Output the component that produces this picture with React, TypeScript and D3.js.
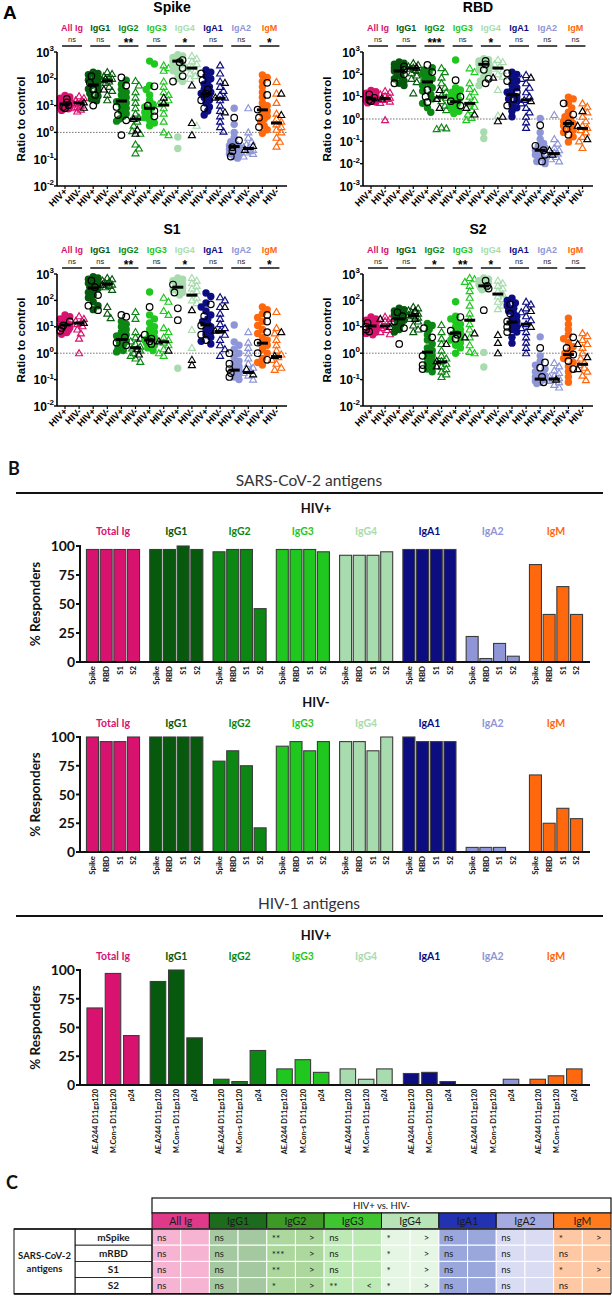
import React from 'react';
import * as d3 from 'd3';

const W = 612;
const H = 1298;
const FA = "'Liberation Sans', Arial, Helvetica, sans-serif";
const FB = "Lato, 'Open Sans', 'Liberation Sans', sans-serif";

// ---------- shared categories ----------
const isotypes = ['All Ig', 'IgG1', 'IgG2', 'IgG3', 'IgG4', 'IgA1', 'IgA2', 'IgM'];
const isotypesB = ['Total Ig', 'IgG1', 'IgG2', 'IgG3', 'IgG4', 'IgA1', 'IgA2', 'IgM'];
const isoColors = ['#d8136f', '#07590d', '#0c8714', '#1fc71f', '#a8dcae', '#0d0d82', '#8e96d8', '#ff680d'];
const headerColors = ['#e0398a', '#1d6c1d', '#3d9a24', '#3fc52f', '#b7e3b7', '#2232b0', '#a5abe0', '#ff7b1c'];
const cellColors = ['#f6b4d2', '#a4c8a0', '#acd89e', '#bdeab4', '#e6f6e4', '#99a7dc', '#dadcf3', '#fdc8a3'];
const groupTicks = ['HIV+', 'HIV-'];

// ---------- panel A: log10(ratio to control) per participant ----------
// HIV+ (filled circles) and highlighted HIV+ (open black circles)
const spikePlus = [
  [1.38, 1.32, 1.28, 1.22, 1.18, 1.14, 1.1, 1.08, 1.05, 1.02, 1.0, 0.98, 0.95, 0.92, 0.88, 0.82],
  [2.25, 2.2, 2.15, 2.1, 2.02, 1.95, 1.9, 1.85, 1.8, 1.75, 1.7, 1.62, 1.55, 1.45, 1.35, 1.25, 1.18],
  [1.95, 1.8, 1.6, 1.5, 1.4, 1.3, 1.2, 1.15, 1.1, 1.0, 0.9, 0.8, 0.7, 0.6, 0.5, 0.42],
  [2.66, 2.55, 1.75, 1.6, 1.4, 1.2, 1.05, 0.95, 0.9, 0.85, 0.75, 0.65, 0.55, 0.45, 0.35, 0.25],
  [2.9, 2.85, 2.8, 2.75, 2.7, 2.65, 2.6, 2.55, 2.5, 2.4, 2.3, 2.2, 2.0, 1.9, -0.17, -0.6],
  [2.33, 2.25, 2.1, 2.0, 1.9, 1.8, 1.7, 1.6, 1.5, 1.45, 1.4, 1.3, 1.2, 1.1, 0.95, 0.8, 0.65],
  [0.9, 0.3, 0.0, -0.2, -0.35, -0.45, -0.5, -0.55, -0.6, -0.65, -0.7, -0.75, -0.8, -0.85, -0.9, -0.96],
  [2.14, 2.05, 1.9, 1.7, 1.5, 1.3, 1.1, 1.0, 0.9, 0.8, 0.7, 0.6, 0.5, 0.4, 0.25, 0.1, -0.03],
];
const spikePlusOpen = [
  [1.25, 1.12, 1.02, 0.95, 0.9],
  [2.1, 1.85, 1.6, 1.4, 1.0],
  [2.05, 1.75, 0.95, 0.65, 0.45, -0.1],
  [1.72, 1.0, 0.8, 0.6],
  [2.7, 2.62, 2.4, 2.1, 1.9],
  [2.2, 1.95, 1.6, 1.45, 1.2, 0.9],
  [0.55, -0.3, -0.55, -0.7, -0.9],
  [1.85, 1.4, 0.85, 0.55, 0.2],
];
// HIV- (open coloured triangles) and highlighted HIV- (open black triangles)
const spikeMinus = [
  [1.35, 1.28, 1.2, 1.15, 1.1, 1.05, 1.0, 0.95, 0.9, 0.85, 0.78],
  [2.25, 2.18, 2.1, 2.05, 2.0, 1.95, 1.9, 1.85, 1.7, 1.55, 1.4, 1.2],
  [1.92, 1.75, 1.5, 1.3, 1.1, 0.9, 0.7, 0.55, 0.4, 0.25, 0.05, -0.05, -0.45, -0.6, -0.78],
  [2.5, 2.4, 2.3, 1.9, 1.7, 1.5, 1.4, 1.2, 1.05, 0.9, 0.7, 0.4, 0.0, -0.1],
  [2.85, 2.75, 2.65, 2.55, 2.45, 2.4, 2.3, 2.2, 2.1, 2.0, 0.25],
  [2.5, 2.2, 1.9, 1.7, 1.55, 1.4, 1.3, 1.2, 1.0, 0.8, 0.6, 0.4, 0.2, 0.03],
  [0.9, 0.0, -0.2, -0.35, -0.45, -0.55, -0.6, -0.65, -0.7, -0.75, -0.8, -0.9],
  [1.88, 1.45, 1.1, 0.7, 0.5, 0.4, 0.3, 0.2, 0.1, 0.0, -0.2, -0.35, -0.53],
];
const spikeMinusOpen = [
  [1.12, 0.92],
  [2.0, 1.6],
  [0.5, 0.1, -0.05],
  [1.3, 1.1],
  [1.75, 0.35, -0.1],
  [1.85, 1.3, 0.75],
  [-0.5, -0.65],
  [1.45, 0.65],
];
const spikeMedPlus = [1.06, 1.77, 1.17, 0.9, 2.66, 1.43, -0.53, 0.84];
const spikeMedMinus = [1.1, 1.92, 0.5, 1.02, 2.4, 1.27, -0.6, 0.35];
const spikeSig = ['ns', 'ns', '**', 'ns', '*', 'ns', 'ns', '*'];

const rbdPlus = [
  [1.28, 1.22, 1.15, 1.1, 1.05, 1.0, 0.97, 0.94, 0.9, 0.87, 0.84, 0.8, 0.76, 0.72],
  [2.55, 2.5, 2.45, 2.4, 2.35, 2.3, 2.25, 2.2, 2.15, 2.1, 2.0, 1.9, 1.8, 1.7, 1.6, 1.5],
  [2.3, 2.2, 2.1, 2.0, 1.9, 1.8, 1.7, 1.6, 1.5, 1.4, 1.25, 1.1, 0.9, 0.7, 0.5, 0.3],
  [2.64, 1.4, 1.3, 1.2, 1.1, 1.0, 0.9, 0.85, 0.78, 0.7, 0.62, 0.55, 0.45, 0.35, 0.25],
  [2.7, 2.65, 2.6, 2.55, 2.5, 2.45, 2.4, 2.3, 2.2, 2.1, 1.9, 1.7, 1.5, -0.58, -0.87],
  [2.1, 2.0, 1.85, 1.7, 1.55, 1.4, 1.3, 1.2, 1.1, 1.0, 0.9, 0.8, 0.65, 0.5, 0.35, 0.1],
  [0.03, -0.6, -0.9, -1.1, -1.2, -1.3, -1.35, -1.4, -1.45, -1.5, -1.6, -1.7, -1.8, -1.9, -2.0],
  [0.98, 0.9, 0.7, 0.5, 0.3, 0.1, 0.0, -0.1, -0.2, -0.3, -0.4, -0.5, -0.6, -0.8, -1.03],
];
const rbdPlusOpen = [
  [1.1, 0.95, 0.85, 0.8],
  [2.35, 2.2, 2.0, 1.6],
  [2.42, 2.1, 1.3, 1.0, 0.75],
  [1.74, 1.0, 0.8, 0.6],
  [2.6, 2.45, 2.2, 1.8, 1.6],
  [2.05, 1.7, 1.2, 0.9, 0.6],
  [-0.28, -1.2, -1.4, -1.6, -1.9],
  [0.7, 0.2, -0.2, -0.45, -0.7],
];
const rbdMinus = [
  [1.25, 1.18, 1.1, 1.02, 0.95, 0.9, 0.85, 0.78, 0.72, -0.05],
  [2.5, 2.42, 2.35, 2.3, 2.25, 2.2, 2.15, 2.05, 1.95, 1.8, 1.65, 1.15],
  [2.28, 2.1, 1.85, 1.6, 1.4, 1.2, 1.05, 0.95, 0.8, 0.6, 0.4, -0.38, -0.42, -0.45],
  [2.27, 2.1, 1.6, 1.35, 1.2, 1.0, 0.85, 0.7, 0.55, 0.4, 0.2, 0.05, -0.05],
  [2.65, 2.55, 2.45, 2.35, 2.25, 2.15, 2.0, 1.9, 1.3, 0.15],
  [1.97, 1.8, 1.6, 1.4, 1.2, 1.0, 0.85, 0.7, 0.5, 0.3, 0.1, -0.15, -0.4],
  [0.18, -0.9, -1.1, -1.3, -1.4, -1.5, -1.55, -1.6, -1.7, -1.8, -1.9],
  [0.7, 0.55, 0.3, 0.1, -0.1, -0.3, -0.4, -0.5, -0.6, -0.8, -1.0, -1.3],
];
const rbdMinusOpen = [
  [0.92],
  [2.3],
  [1.3, 0.9, 0.5],
  [0.5, 0.2],
  [1.85, 0.1, -0.1],
  [1.85, 0.8],
  [-1.4, -1.6],
  [0.35, -0.3, -0.9],
];
const rbdMedPlus = [0.9, 2.15, 1.66, 0.77, 2.45, 1.1, -1.4, -0.2];
const rbdMedMinus = [0.92, 2.28, 0.98, 0.7, 2.28, 0.85, -1.55, -0.42];
const rbdSig = ['ns', 'ns', '***', 'ns', '*', 'ns', 'ns', 'ns'];

const s1Plus = [
  [1.45, 1.38, 1.3, 1.24, 1.18, 1.12, 1.08, 1.04, 1.0, 0.96, 0.92, 0.88, 0.84, 0.78, 0.72],
  [2.9, 2.85, 2.8, 2.75, 2.7, 2.65, 2.6, 2.55, 2.5, 2.45, 2.4, 2.3, 2.2, 2.1, 1.95, 1.8, 1.65],
  [1.2, 1.1, 1.0, 0.9, 0.8, 0.7, 0.65, 0.6, 0.55, 0.5, 0.45, 0.4, 0.3, 0.2, 0.1, 0.05],
  [2.32, 1.45, 1.3, 1.15, 1.0, 0.9, 0.8, 0.7, 0.6, 0.55, 0.5, 0.45, 0.4, 0.3, 0.2, 0.1],
  [2.85, 2.8, 2.75, 2.7, 2.65, 2.6, 2.55, 2.5, 2.45, 2.4, 2.35, 2.3, 2.2, -0.57],
  [2.28, 2.15, 1.9, 1.75, 1.6, 1.45, 1.3, 1.2, 1.1, 1.0, 0.9, 0.8, 0.7, 0.6, 0.45, 0.35],
  [1.07, 0.43, 0.3, 0.15, 0.0, -0.15, -0.3, -0.4, -0.5, -0.6, -0.65, -0.7, -0.8, -0.9, -1.0],
  [1.75, 1.65, 1.5, 1.35, 1.2, 1.05, 0.9, 0.75, 0.6, 0.5, 0.4, 0.3, 0.15, 0.0, -0.2, -0.35, -0.45],
];
const s1PlusOpen = [
  [1.2, 1.05, 0.95, 0.85],
  [2.75, 2.5, 2.2, 1.8, 1.63],
  [1.45, 1.38, 0.6, 0.4, 0.3],
  [1.75, 0.7, 0.55, 0.45, 0.35],
  [2.6, 2.3, 1.7, 1.25],
  [1.85, 1.4, 1.05, 0.7, 0.5],
  [0.0, -0.4, -0.6, -0.75, -0.9],
  [1.45, 1.2, 0.8, 0.4, 0.0, -0.25],
];
const s1Minus = [
  [1.4, 1.3, 1.22, 1.15, 1.1, 1.02, 0.9, 0.75, 0.55, 0.0],
  [2.85, 2.8, 2.75, 2.7, 2.65, 2.6, 2.55, 2.5, 2.4, 1.75, 1.5, 1.33],
  [1.56, 1.3, 0.8, 0.6, 0.45, 0.35, 0.25, 0.18, 0.1, 0.0, -0.1, -0.2, -0.33],
  [2.1, 1.95, 1.6, 1.45, 0.95, 0.8, 0.6, 0.5, 0.4, 0.3, 0.15, 0.0, -0.1],
  [2.85, 2.75, 2.65, 2.55, 2.45, 2.35, 2.25, 2.1, 2.0, 1.9, 0.88, 0.2],
  [2.12, 2.0, 1.75, 1.5, 1.3, 1.1, 0.95, 0.85, 0.7, 0.5, 0.3, 0.15, -0.1],
  [0.8, 0.4, 0.2, 0.0, -0.2, -0.4, -0.55, -0.65, -0.75, -0.85, -1.0],
  [1.56, 0.95, 0.75, 0.5, 0.3, 0.1, -0.05, -0.15, -0.25, -0.4, -0.55, -0.63],
];
const s1MinusOpen = [
  [1.15],
  [2.6],
  [0.55, 0.15, -0.05],
  [0.45, 0.1],
  [1.63, -0.25, -0.45],
  [1.75, 0.85],
  [-0.6, -0.8],
  [0.8, -0.1],
];
const s1MedPlus = [1.07, 2.47, 0.52, 0.5, 2.5, 1.07, -0.64, 0.38];
const s1MedMinus = [1.14, 2.62, 0.2, 0.43, 2.2, 0.82, -0.73, -0.13];
const s1Sig = ['ns', 'ns', '**', 'ns', '*', 'ns', 'ns', '*'];

const s2Plus = [
  [1.37, 1.3, 1.25, 1.2, 1.15, 1.1, 1.06, 1.02, 0.98, 0.94, 0.9, 0.85, 0.8, 0.75, 0.7],
  [1.7, 1.65, 1.6, 1.55, 1.5, 1.45, 1.4, 1.35, 1.3, 1.25, 1.2, 1.1, 1.0, 0.9, 0.8],
  [1.13, 1.05, 0.9, 0.7, 0.5, 0.35, 0.2, 0.1, 0.0, -0.1, -0.2, -0.3, -0.4, -0.5, -0.6, -0.7],
  [1.95, 1.4, 1.3, 1.2, 1.1, 1.0, 0.9, 0.8, 0.75, 0.7, 0.6, 0.5, 0.4, 0.3, 0.2, 0.0],
  [2.85, 2.8, 2.75, 2.7, 2.65, 2.6, 2.55, 2.5, 2.45, 2.4, 0.03, -0.52],
  [2.08, 2.0, 1.9, 1.8, 1.7, 1.6, 1.5, 1.4, 1.3, 1.2, 1.1, 1.0, 0.9, 0.8, 0.6, 0.38],
  [0.62, -0.1, -0.3, -0.45, -0.6, -0.7, -0.8, -0.85, -0.9, -0.95, -1.0, -1.05, -1.1, -1.15],
  [1.33, 1.1, 0.9, 0.7, 0.55, 0.4, 0.25, 0.1, 0.0, -0.1, -0.2, -0.35, -0.5, -0.7, -0.9, -1.1],
];
const s2PlusOpen = [
  [1.15, 1.0, 0.9, 0.82],
  [1.55, 1.4, 1.2, 0.95, 0.35],
  [0.95, 0.6, -0.1, -0.45, -0.6],
  [1.37, 0.85, 0.7, 0.55],
  [2.75, 2.55, 2.45, 1.63],
  [1.85, 1.5, 1.2, 1.0, 0.8],
  [0.2, -0.35, -0.55, -0.9, -1.1],
  [0.6, 0.2, -0.05, -0.3, -0.6],
];
const s2Minus = [
  [1.38, 1.3, 1.22, 1.15, 1.08, 1.02, 0.95, 0.88, 0.8, 0.72],
  [1.75, 1.7, 1.62, 1.55, 1.5, 1.45, 1.4, 1.35, 1.3, 1.2, 1.05, 0.9, 0.8],
  [1.07, 0.8, 0.55, 0.35, 0.1, -0.1, -0.2, -0.3, -0.4, -0.5, -0.6, -0.7, -0.8, -0.9],
  [2.85, 2.8, 2.7, 2.55, 2.35, 2.1, 1.8, 1.5, 1.3, 1.1, 0.9, 0.6, 0.3, 0.05, 0.0],
  [2.75, 2.65, 2.55, 2.45, 2.35, 2.25, 2.15, 2.05, 1.95, 1.8, 1.67],
  [1.95, 1.85, 1.7, 1.55, 1.4, 1.25, 1.1, 0.95, 0.8, 0.6, 0.4, 0.2, 0.0],
  [-0.37, -0.5, -0.65, -0.75, -0.85, -0.9, -0.95, -1.0, -1.05, -1.1, -1.2, -1.3],
  [0.76, 0.65, 0.5, 0.35, 0.2, 0.0, -0.2, -0.35, -0.45, -0.55, -0.7, -0.85, -1.02],
];
const s2MinusOpen = [
  [1.3, 1.0],
  [1.6, 1.3],
  [0.35, -0.3, -0.5],
  [0.75, 0.6],
  [0.69, 0.39, 0.0],
  [1.6, 1.0],
  [-1.0],
  [0.35, -0.15, -0.6],
];
const s2MedPlus = [1.03, 1.3, 0.04, 0.76, 2.55, 1.18, -0.98, -0.05];
const s2MedMinus = [1.03, 1.42, -0.33, 1.25, 2.24, 1.1, -0.98, -0.42];
const s2Sig = ['ns', 'ns', '*', '**', '*', 'ns', 'ns', 'ns'];

// ---------- panel B: % responders ----------
const sarsAntigens = ['Spike', 'RBD', 'S1', 'S2'];
const hivAntigens = ['AE.A244 D11gp120', 'M.Con-s D11gp120', 'p24'];
const respSarsHivPos = [
  [97, 97, 97, 97],
  [97, 97, 100, 97],
  [95, 97, 97, 46],
  [97, 97, 97, 95],
  [92, 92, 92, 95],
  [97, 97, 97, 97],
  [22, 3, 16, 5],
  [84, 41, 65, 41],
];
const respSarsHivNeg = [
  [100, 96, 96, 100],
  [100, 100, 100, 100],
  [79, 88, 75, 21],
  [92, 96, 88, 96],
  [96, 96, 88, 100],
  [100, 96, 96, 96],
  [4, 4, 4, 0],
  [67, 25, 38, 29],
];
const respHivAgHivPos = [
  [67, 97, 43],
  [90, 100, 41],
  [5, 3, 30],
  [14, 22, 11],
  [14, 5, 14],
  [10, 11, 3],
  [0, 0, 5],
  [5, 8, 14],
];
const respTicks = [0, 25, 50, 75, 100];

// ---------- panel C: HIV+ vs HIV- summary ----------
const tableRows = ['mSpike', 'mRBD', 'S1', 'S2'];
const tableSig = [
  ['ns', 'ns', '**', 'ns', '*', 'ns', 'ns', '*'],
  ['ns', 'ns', '***', 'ns', '*', 'ns', 'ns', 'ns'],
  ['ns', 'ns', '**', 'ns', '*', 'ns', 'ns', '*'],
  ['ns', 'ns', '*', '**', '*', 'ns', 'ns', 'ns'],
];
const tableDir = [
  ['', '', '>', '', '>', '', '', '>'],
  ['', '', '>', '', '>', '', '', ''],
  ['', '', '>', '', '>', '', '', '>'],
  ['', '', '>', '<', '>', '', '', ''],
];

// ---------- helpers ----------
type Pt = { v: number; open: boolean; px: number; py: number };

// Deterministic beeswarm: each point takes the nearest free horizontal slot.
function swarm(vals: number[], openVals: number[], cx: number, yOf: (v: number) => number, r: number): Pt[] {
  const items = [
    ...vals.map((v) => ({ v, open: false })),
    ...openVals.map((v) => ({ v, open: true })),
  ].map((d) => ({ ...d, px: cx, py: yOf(d.v) }));
  items.sort((a, b) => a.py - b.py);
  const offs = [0, 1.8, -1.8, 3.4, -3.4, 4.8, -4.8];
  const placed: Pt[] = [];
  for (const d of items) {
    let best = 0;
    let bestScore = -1;
    for (const o of offs) {
      let md = Infinity;
      for (const p of placed) {
        const dy = p.py - d.py;
        if (Math.abs(dy) < 2 * r) md = Math.min(md, Math.hypot(p.px - (cx + o), dy));
      }
      if (md >= 1.5 * r) {
        best = o;
        break;
      }
      if (md > bestScore) {
        bestScore = md;
        best = o;
      }
    }
    d.px = cx + best;
    placed.push(d);
  }
  return placed;
}

const triPath = d3.symbol(d3.symbolTriangle, 21)() as string;

interface ScatterProps {
  ox: number;
  top: number;
  bottom: number;
  minExp: number;
  title: string;
  sig: string[];
  plus: number[][];
  plusOpen: number[][];
  minus: number[][];
  minusOpen: number[][];
  medPlus: number[];
  medMinus: number[];
}

function ScatterPanel(p: ScatterProps) {
  const { ox, top, bottom, minExp } = p;
  const y = d3.scaleLog().domain([Math.pow(10, minExp), 1000]).range([bottom, top]);
  const yOf = (v: number) => y(Math.pow(10, v));
  const col = d3.scaleLinear().domain([0, 15]).range([ox + 65, ox + 276.5]);
  const axisX = ox + 57;
  const rightX = ox + 287;
  const exps = d3.range(minExp, 4);
  const r = 3.5;

  const groups = isotypes.map((name, g) => {
    const cPlus = col(2 * g);
    const cMinus = col(2 * g + 1);
    const ptsPlus = swarm(p.plus[g], p.plusOpen[g], cPlus, yOf, r);
    const ptsMinus = swarm(p.minus[g], p.minusOpen[g], cMinus, yOf, r);
    return { name, g, cPlus, cMinus, ptsPlus, ptsMinus };
  });

  return (
    <g>
      <text x={ox + 172} y={top - 40} textAnchor="middle" fontFamily={FA} fontWeight="bold" fontSize={14}>
        {p.title}
      </text>
      {groups.map(({ name, g, cPlus, cMinus }) => {
        const cx = (cPlus + cMinus) / 2;
        const s = p.sig[g];
        return (
          <g key={name}>
            <text x={cx} y={top - 21} textAnchor="middle" fontFamily={FA} fontWeight="bold" fontSize={9} fill={isoColors[g]}>
              {name}
            </text>
            {s === 'ns' ? (
              <text x={cx} y={top - 10.5} textAnchor="middle" fontFamily={FA} fontSize={7.5} fill="#222">
                ns
              </text>
            ) : (
              <text x={cx} y={top - 5.5} textAnchor="middle" fontFamily={FA} fontWeight="bold" fontSize={12} fill="#000">
                {s}
              </text>
            )}
            <line x1={cx - 10} x2={cx + 10} y1={top - 6} y2={top - 6} stroke="#000" strokeWidth={1.4} />
          </g>
        );
      })}
      {/* reference line at ratio = 1 */}
      <line x1={axisX} x2={rightX} y1={y(1)} y2={y(1)} stroke="#555" strokeWidth={0.8} strokeDasharray="1.6,1.4" />
      {groups.map(({ g, ptsPlus, ptsMinus, cPlus, cMinus }) => (
        <g key={'pts' + g}>
          {ptsPlus.filter((d) => !d.open).map((d, i) => (
            <circle key={'f' + i} cx={d.px} cy={d.py} r={r + 0.2} fill={isoColors[g]} />
          ))}
          {ptsMinus.filter((d) => !d.open).map((d, i) => (
            <path key={'t' + i} d={triPath} transform={`translate(${d.px},${d.py + 0.5})`} fill="none" stroke={isoColors[g]} strokeWidth={1.15} />
          ))}
          {ptsPlus.filter((d) => d.open).map((d, i) => (
            <circle key={'o' + i} cx={d.px} cy={d.py} r={r - 0.2} fill="none" stroke="#000" strokeWidth={1.2} />
          ))}
          {ptsMinus.filter((d) => d.open).map((d, i) => (
            <path key={'k' + i} d={triPath} transform={`translate(${d.px},${d.py + 0.5})`} fill="none" stroke="#000" strokeWidth={1.15} />
          ))}
          <rect x={cPlus - 5.5} y={yOf(p.medPlus[g]) - 1.5} width={11} height={3} fill="#000" />
          <rect x={cMinus - 5.5} y={yOf(p.medMinus[g]) - 1.5} width={11} height={3} fill="#000" />
        </g>
      ))}
      {/* axes */}
      <line x1={axisX} x2={axisX} y1={top} y2={bottom} stroke="#000" strokeWidth={1.6} />
      <line x1={axisX} x2={rightX} y1={bottom} y2={bottom} stroke="#000" strokeWidth={1.6} />
      {exps.map((e) => (
        <g key={'e' + e}>
          <line x1={axisX - 3} x2={axisX} y1={y(Math.pow(10, e))} y2={y(Math.pow(10, e))} stroke="#000" strokeWidth={1.4} />
          <text x={axisX - 3} y={y(Math.pow(10, e)) + 4.5} textAnchor="end" fontFamily={FA} fontWeight="bold" fontSize={12}>
            10
            <tspan dy={-5.5} fontSize={8}>
              {String(e)}
            </tspan>
          </text>
        </g>
      ))}
      {d3.range(16).map((i) => (
        <g key={'x' + i}>
          <line x1={col(i)} x2={col(i)} y1={bottom} y2={bottom + 3} stroke="#000" strokeWidth={1.2} />
          <text
            transform={`translate(${col(i) + 3},${bottom + 6}) rotate(-45)`}
            textAnchor="end"
            fontFamily={FA}
            fontWeight="bold"
            fontSize={9.5}
          >
            {groupTicks[i % 2]}
          </text>
        </g>
      ))}
      <text
        transform={`translate(${ox + 25},${(top + bottom) / 2}) rotate(-90)`}
        textAnchor="middle"
        fontFamily={FA}
        fontWeight="bold"
        fontSize={11.5}
      >
        Ratio to control
      </text>
    </g>
  );
}

interface BarProps {
  y100: number;
  y0: number;
  values: number[][];
  antigens: string[];
  barW: number;
  step: number;
  subtitle: string;
  subY: number;
  isoY: number;
  labelSize: number;
}

function BarChart(b: BarProps) {
  const y = d3.scaleLinear().domain([0, 100]).range([b.y0, b.y100]);
  const gx = d3.scaleLinear().domain([0, 7]).range([113, 556]);
  const n = b.antigens.length;
  const axisX = 80;
  return (
    <g>
      <text x={316} y={b.subY} textAnchor="middle" fontFamily={FB} fontWeight="bold" fontSize={13} fill="#111">
        {b.subtitle}
      </text>
      {isotypesB.map((name, g) => (
        <text key={name} x={gx(g)} y={b.isoY} textAnchor="middle" fontFamily={FB} fontWeight="bold" fontSize={10.5} fill={isoColors[g]}>
          {name}
        </text>
      ))}
      {b.values.map((vals, g) =>
        vals.map((v, k) => {
          const cx = gx(g) + (k - (n - 1) / 2) * b.step;
          return (
            <g key={g + '-' + k}>
              {v > 0 && (
                <rect
                  x={cx - b.barW / 2}
                  y={y(v)}
                  width={b.barW}
                  height={y(0) - y(v)}
                  fill={isoColors[g]}
                  stroke="#3c3c3c"
                  strokeWidth={1.1}
                />
              )}
              <text
                transform={`translate(${cx + 2.8},${b.y0 + 4}) rotate(-90)`}
                textAnchor="end"
                fontFamily={FB}
                fontWeight="bold"
                fontSize={b.labelSize}
                fill="#111"
              >
                {b.antigens[k]}
              </text>
            </g>
          );
        })
      )}
      <line x1={axisX} x2={590} y1={b.y0} y2={b.y0} stroke="#111" strokeWidth={2} />
      <line x1={axisX} x2={axisX} y1={b.y100 - 1} y2={b.y0} stroke="#111" strokeWidth={2} />
      {respTicks.map((t) => (
        <g key={t}>
          <line x1={axisX - 4} x2={axisX} y1={y(t)} y2={y(t)} stroke="#111" strokeWidth={2} />
          <text x={axisX - 5} y={y(t) + 5} textAnchor="end" fontFamily={FB} fontWeight="bold" fontSize={14} fill="#111">
            {t}
          </text>
        </g>
      ))}
      <text
        transform={`translate(${40},${(b.y0 + b.y100) / 2}) rotate(-90)`}
        textAnchor="middle"
        fontFamily={FB}
        fontWeight="bold"
        fontSize={13.5}
        fill="#111"
      >
        % Responders
      </text>
    </g>
  );
}

function SummaryTable() {
  const x0 = 14;
  const xRowName = 75;
  const xData = 152;
  const colW = (611 - xData) / 8;
  const topY = 1198;
  const hdrY = 1213;
  const rowY0 = 1229;
  const rowH = 16.2;
  const botY = rowY0 + rowH * 4;
  return (
    <g fontFamily={FB}>
      <text x={6} y={1189} fontFamily={FB} fontWeight="bold" fontSize={18} fill="#111">
        C
      </text>
      {/* HIV+ vs HIV- header */}
      <rect x={xData} y={topY} width={611 - xData} height={hdrY - topY} fill="#fff" stroke="#111" strokeWidth={1.2} />
      <text x={(xData + 611) / 2} y={topY + 11} textAnchor="middle" fontSize={9.5} fill="#111">
        HIV+ vs. HIV-
      </text>
      {/* isotype header row */}
      {isotypes.map((name, g) => (
        <g key={name}>
          <rect x={xData + g * colW} y={hdrY} width={colW} height={rowY0 - hdrY} fill={headerColors[g]} stroke="#111" strokeWidth={1} />
          <text x={xData + g * colW + colW / 2} y={hdrY + 12} textAnchor="middle" fontSize={10.5} fill="#1a1a1a">
            {name}
          </text>
        </g>
      ))}
      {/* data cells */}
      {tableRows.map((row, ri) => (
        <g key={row}>
          {isotypes.map((_, g) => {
            const cx = xData + g * colW;
            const cy = rowY0 + ri * rowH;
            return (
              <g key={g}>
                <rect x={cx} y={cy} width={colW / 2} height={rowH} fill={cellColors[g]} stroke="#fff" strokeWidth={1} />
                <rect x={cx + colW / 2} y={cy} width={colW / 2} height={rowH} fill={cellColors[g]} stroke="#fff" strokeWidth={1} />
                <text x={cx + 5} y={cy + (tableSig[ri][g] === 'ns' ? 11.5 : 12.5)} fontSize={tableSig[ri][g] === 'ns' ? 9.5 : 10} fill="#222">
                  {tableSig[ri][g]}
                </text>
                {tableDir[ri][g] && (
                  <text x={cx + colW * 0.75 + 2} y={cy + 11.5} textAnchor="middle" fontSize={9.5} fill="#222">
                    {tableDir[ri][g]}
                  </text>
                )}
              </g>
            );
          })}
          <rect x={xRowName} y={rowY0 + ri * rowH} width={xData - xRowName} height={rowH} fill="#fff" stroke="#111" strokeWidth={0.8} />
          <text x={(xRowName + xData) / 2} y={rowY0 + ri * rowH + 11.8} textAnchor="middle" fontWeight="bold" fontSize={10} fill="#1a1a1a">
            {row}
          </text>
        </g>
      ))}
      <rect x={x0} y={rowY0} width={xRowName - x0} height={botY - rowY0} fill="#fff" stroke="#111" strokeWidth={1} />
      <text x={(x0 + xRowName) / 2} y={(rowY0 + botY) / 2 - 2} textAnchor="middle" fontWeight="bold" fontSize={9.5} fill="#1a1a1a">
        SARS-CoV-2
      </text>
      <text x={(x0 + xRowName) / 2} y={(rowY0 + botY) / 2 + 11} textAnchor="middle" fontWeight="bold" fontSize={9.5} fill="#1a1a1a">
        antigens
      </text>
      {/* block outlines */}
      <line x1={x0} x2={611} y1={rowY0} y2={rowY0} stroke="#111" strokeWidth={1.6} />
      <line x1={x0} x2={611} y1={botY} y2={botY} stroke="#111" strokeWidth={1.8} />
      <line x1={611} x2={611} y1={rowY0} y2={botY} stroke="#111" strokeWidth={1} />
      <line x1={xData} x2={xData} y1={rowY0} y2={botY} stroke="#111" strokeWidth={1.2} />
    </g>
  );
}

export default function App() {
  return (
    <svg
      width={W}
      height={H}
      viewBox={`0 0 ${W} ${H}`}
      style={{ position: 'absolute', left: 0, top: 0, background: '#fff' }}
    >
      <rect width={W} height={H} fill="#fff" />
      {/* ---------- A ---------- */}
      <text x={3} y={19} fontFamily={FA} fontWeight="bold" fontSize={19}>
        A
      </text>
      <ScatterPanel ox={0} top={52} bottom={186} minExp={-2} title="Spike" sig={spikeSig}
        plus={spikePlus} plusOpen={spikePlusOpen} minus={spikeMinus} minusOpen={spikeMinusOpen}
        medPlus={spikeMedPlus} medMinus={spikeMedMinus} />
      <ScatterPanel ox={306} top={52} bottom={186} minExp={-3} title="RBD" sig={rbdSig}
        plus={rbdPlus} plusOpen={rbdPlusOpen} minus={rbdMinus} minusOpen={rbdMinusOpen}
        medPlus={rbdMedPlus} medMinus={rbdMedMinus} />
      <ScatterPanel ox={0} top={274} bottom={406} minExp={-2} title="S1" sig={s1Sig}
        plus={s1Plus} plusOpen={s1PlusOpen} minus={s1Minus} minusOpen={s1MinusOpen}
        medPlus={s1MedPlus} medMinus={s1MedMinus} />
      <ScatterPanel ox={306} top={274} bottom={406} minExp={-2} title="S2" sig={s2Sig}
        plus={s2Plus} plusOpen={s2PlusOpen} minus={s2Minus} minusOpen={s2MinusOpen}
        medPlus={s2MedPlus} medMinus={s2MedMinus} />

      {/* ---------- B ---------- */}
      <text x={8} y={475} fontFamily={FB} fontWeight="bold" fontSize={18} fill="#111">
        B
      </text>
      <text x={309} y={486} textAnchor="middle" fontFamily={FB} fontSize={15.5} fill="#333">
        SARS-CoV-2 antigens
      </text>
      <line x1={16} x2={603} y1={493} y2={493} stroke="#111" strokeWidth={2.2} />
      <BarChart y100={546} y0={662} values={respSarsHivPos} antigens={sarsAntigens} barW={12} step={13.7}
        subtitle="HIV+" subY={513} isoY={535} labelSize={7.8} />
      <BarChart y100={737} y0={852} values={respSarsHivNeg} antigens={sarsAntigens} barW={12} step={13.7}
        subtitle="HIV-" subY={707} isoY={727} labelSize={7.8} />
      <text x={309} y={909} textAnchor="middle" fontFamily={FB} fontSize={15.5} fill="#333">
        HIV-1 antigens
      </text>
      <line x1={16} x2={603} y1={916} y2={916} stroke="#111" strokeWidth={2.2} />
      <BarChart y100={970} y0={1085} values={respHivAgHivPos} antigens={hivAntigens} barW={15.5} step={18.3}
        subtitle="HIV+" subY={940} isoY={960} labelSize={7.3} />

      {/* ---------- C ---------- */}
      <SummaryTable />
    </svg>
  );
}
